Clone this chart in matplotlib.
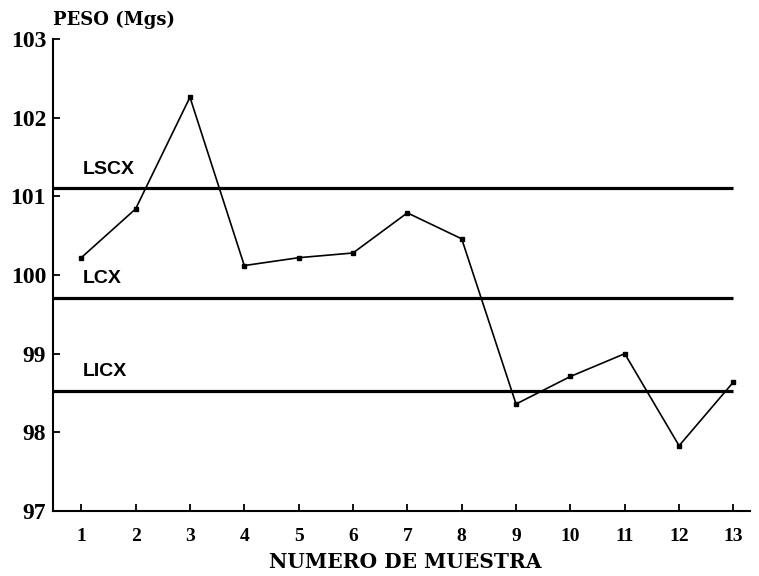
import matplotlib.pyplot as plt

# datos de la carta de control
muestras = [1, 2, 3, 4, 5, 6, 7, 8, 9, 10, 11, 12, 13]
peso = [100.22, 100.84, 102.26, 100.12, 100.22, 100.28, 100.79,
        100.46, 98.36, 98.71, 99.0, 97.83, 98.64]
limites = [101.10, 99.71, 98.53]
nombres_limites = ['LSCX', 'LCX', 'LICX']

serif = ['Liberation Serif', 'DejaVu Serif']
serif_ancha = ['DejaVu Serif']
sans = ['Liberation Sans', 'DejaVu Sans']

fig = plt.figure(figsize=(7.59, 5.76), dpi=100)
ax = fig.add_axes([0.0698, 0.1128, 0.918, 0.8195])

x0, x1 = 0.48, 13.3
ax.set_xlim(x0, x1)
ax.set_ylim(97, 103)

# lineas de control
ax.hlines(limites, x0, muestras[-1], color='black', linewidth=2.3)
for val, nom in zip(limites, nombres_limites):
    ax.text(1.03, val + 0.19, nom, fontsize=14, fontweight='bold',
            family=sans, ha='left', va='baseline')

ax.plot(muestras, peso, color='black', linewidth=1.2, marker='s', markersize=3.5)

ax.spines['top'].set_visible(False)
ax.spines['right'].set_visible(False)
ax.spines['left'].set_linewidth(1.5)
ax.spines['bottom'].set_linewidth(1.5)

ax.set_xticks(muestras)
ax.set_yticks([97, 98, 99, 100, 101, 102, 103])
ax.tick_params(axis='both', direction='in', length=5, width=1.3, colors='black')
ax.tick_params(axis='x', pad=12)
ax.tick_params(axis='y', pad=5)
for lab in ax.get_xticklabels():
    lab.set_fontfamily(serif)
    lab.set_fontweight('bold')
    lab.set_fontsize(14)
for lab in ax.get_yticklabels():
    lab.set_fontfamily(serif)
    lab.set_fontweight('bold')
    lab.set_fontsize(17)

fig.text(0.07, 0.957, 'PESO (Mgs)', family=serif_ancha, fontweight='bold',
         fontsize=13, ha='left', va='baseline')
fig.text(0.534, 0.014, 'NUMERO DE MUESTRA', family=serif_ancha, fontweight='bold',
         fontsize=14.5, ha='center', va='baseline')

fig.savefig('out.png', dpi=100)
